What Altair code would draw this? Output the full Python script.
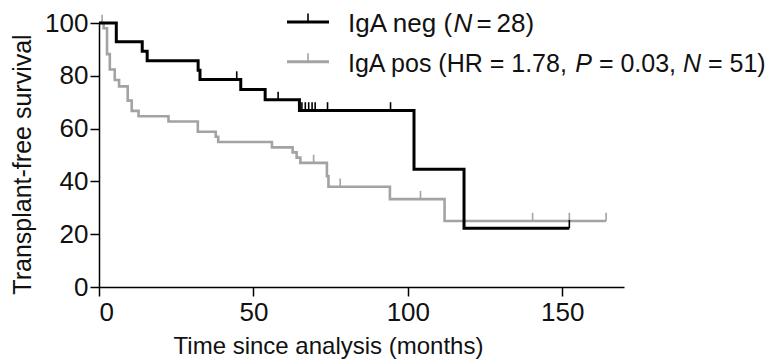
import altair as alt
import pandas as pd
import numpy as np

# ---- data ----
neg_time = [0, 5.6, 14.0, 15.6, 32.1, 32.7, 45.9, 53.8, 64.9, 102.0, 118.2, 152.3]
neg_surv = [100, 92.9, 89.3, 85.7, 82.1, 78.6, 74.8, 70.9, 66.9, 44.6, 22.3, 22.3]
neg_censor = [44.6, 58.0, 65.7, 66.8, 67.9, 69.0, 70.0, 74.0, 94.4, 152.3]

pos_time = [0, 1.5, 2.6, 3.5, 5.1, 6.5, 9.3, 10.6, 12.8, 22.5, 32.0, 37.8, 38.6,
            56.0, 62.7, 64.0, 65.2, 73.8, 74.3, 94.2, 111.9, 164.2]
pos_surv = [100, 98.0, 88.2, 82.4, 78.4, 76.0, 70.6, 66.7, 64.7, 62.7, 58.8, 56.9, 54.9,
            52.9, 51.0, 49.0, 47.0, 42.0, 38.0, 33.3, 25.0, 25.0]
pos_censor = [1.0, 69.5, 78.1, 104.1, 140.4, 152.3, 164.2]

groups = ["IgA neg", "IgA pos"]
x_ticks = [0, 50, 100, 150]
y_ticks = [0, 20, 40, 60, 80, 100]
x_title = "Time since analysis (months)"
y_title = "Transplant-free survival"
legend_row1 = ["IgA neg (", "N", "=", "28)"]
legend_row2 = ["IgA pos (HR = 1.78,", "P", "= 0.03,", "N", "= 51)"]

FONT = "Liberation Sans"
BLACK = "#000000"
GREY = "#a3a3a3"


def step_value(times, survs, t):
    i = int(np.searchsorted(np.array(times), t, side="right")) - 1
    return survs[max(i, 0)]


curve_rows = []
for g, ts, ss in [(groups[0], neg_time, neg_surv), (groups[1], pos_time, pos_surv)]:
    for t, s in zip(ts, ss):
        curve_rows.append({"group": g, "time": t, "surv": s})
curves = pd.DataFrame(curve_rows)

cens_rows = []
for g, ts, ss, cs in [(groups[0], neg_time, neg_surv, neg_censor),
                      (groups[1], pos_time, pos_surv, pos_censor)]:
    for c in cs:
        cens_rows.append({"group": g, "time": c, "surv": step_value(ts, ss, c)})
cens = pd.DataFrame(cens_rows)

xscale = alt.Scale(domain=[0, 170], nice=False, zero=False)
yscale = alt.Scale(domain=[0, 100], nice=False)
color = alt.Color("group:N", scale=alt.Scale(domain=groups, range=[BLACK, GREY]), legend=None)

xaxis = alt.Axis(values=x_ticks, title=x_title, titleX=229, titleY=66, titleAlign="center",
                 titleBaseline="alphabetic", titleFontSize=24, labelPadding=3)
yaxis = alt.Axis(values=y_ticks, title=y_title, titleX=-69, titleY=141, titleAlign="center",
                 titleBaseline="alphabetic", titleAngle=270, titleFontSize=25, labelPadding=2)


def curve_layer(g, width):
    return alt.Chart(curves[curves.group == g]).mark_line(
        interpolate="step-after", strokeWidth=width
    ).encode(
        x=alt.X("time:Q", scale=xscale, axis=xaxis),
        y=alt.Y("surv:Q", scale=yscale, axis=yaxis),
        color=color,
    )


def censor_layer(g):
    return alt.Chart(cens[cens.group == g]).transform_calculate(
        top="datum.surv + 3.1"
    ).mark_rule(strokeWidth=1.6).encode(
        x=alt.X("time:Q", scale=xscale),
        y=alt.Y("surv:Q", scale=yscale),
        y2="top:Q",
        color=color,
    )


def text_seg(txt, x, y, size, italic=False):
    return alt.Chart(pd.DataFrame({"t": [txt]})).mark_text(
        align="left", baseline="alphabetic", font=FONT, fontSize=size,
        fontStyle="italic" if italic else "normal", color="#111111"
    ).encode(text="t:N", x=alt.value(x), y=alt.value(y))


def legend_line(col, y):
    line = alt.Chart(pd.DataFrame({"a": [0]})).mark_rule(color=col, strokeWidth=3).encode(
        x=alt.value(188), x2=alt.value(230), y=alt.value(y))
    tick = alt.Chart(pd.DataFrame({"a": [0]})).mark_rule(color=col, strokeWidth=1.6).encode(
        x=alt.value(209), y=alt.value(y - 8.5), y2=alt.value(y))
    return line + tick


legend = (
    legend_line(BLACK, -1) + legend_line(GREY, 38.7)
    + text_seg(legend_row1[0], 249, 8.5, 26)
    + text_seg(legend_row1[1], 354.5, 8.5, 26, italic=True)
    + text_seg(legend_row1[2], 377.5, 8.5, 26)
    + text_seg(legend_row1[3], 397.5, 8.5, 26)
    + text_seg(legend_row2[0], 249, 48.5, 25)
    + text_seg(legend_row2[1], 476.2, 48.5, 25, italic=True)
    + text_seg(legend_row2[2], 499.9, 48.5, 25)
    + text_seg(legend_row2[3], 584, 48.5, 25, italic=True)
    + text_seg(legend_row2[4], 609, 48.5, 25)
)

chart = alt.layer(
    curve_layer(groups[1], 2.6),
    censor_layer(groups[1]),
    curve_layer(groups[0], 3),
    censor_layer(groups[0]),
    legend,
).properties(
    width=525, height=264,
    padding={"left": 99, "top": 23, "right": 148, "bottom": 73},
    autosize=alt.AutoSizeParams(type="none"),
    background="white",
).configure_view(stroke=None).configure_axis(
    grid=False, domainColor=BLACK, domainWidth=1.5, tickColor=BLACK, tickWidth=1.5,
    tickSize=9, labelFont=FONT, labelFontSize=26, labelColor="#111111",
    titleFont=FONT, titleColor="#111111", titleFontWeight="normal",
)

chart.save("out.html", embed_options={"renderer": "svg", "actions": False})
